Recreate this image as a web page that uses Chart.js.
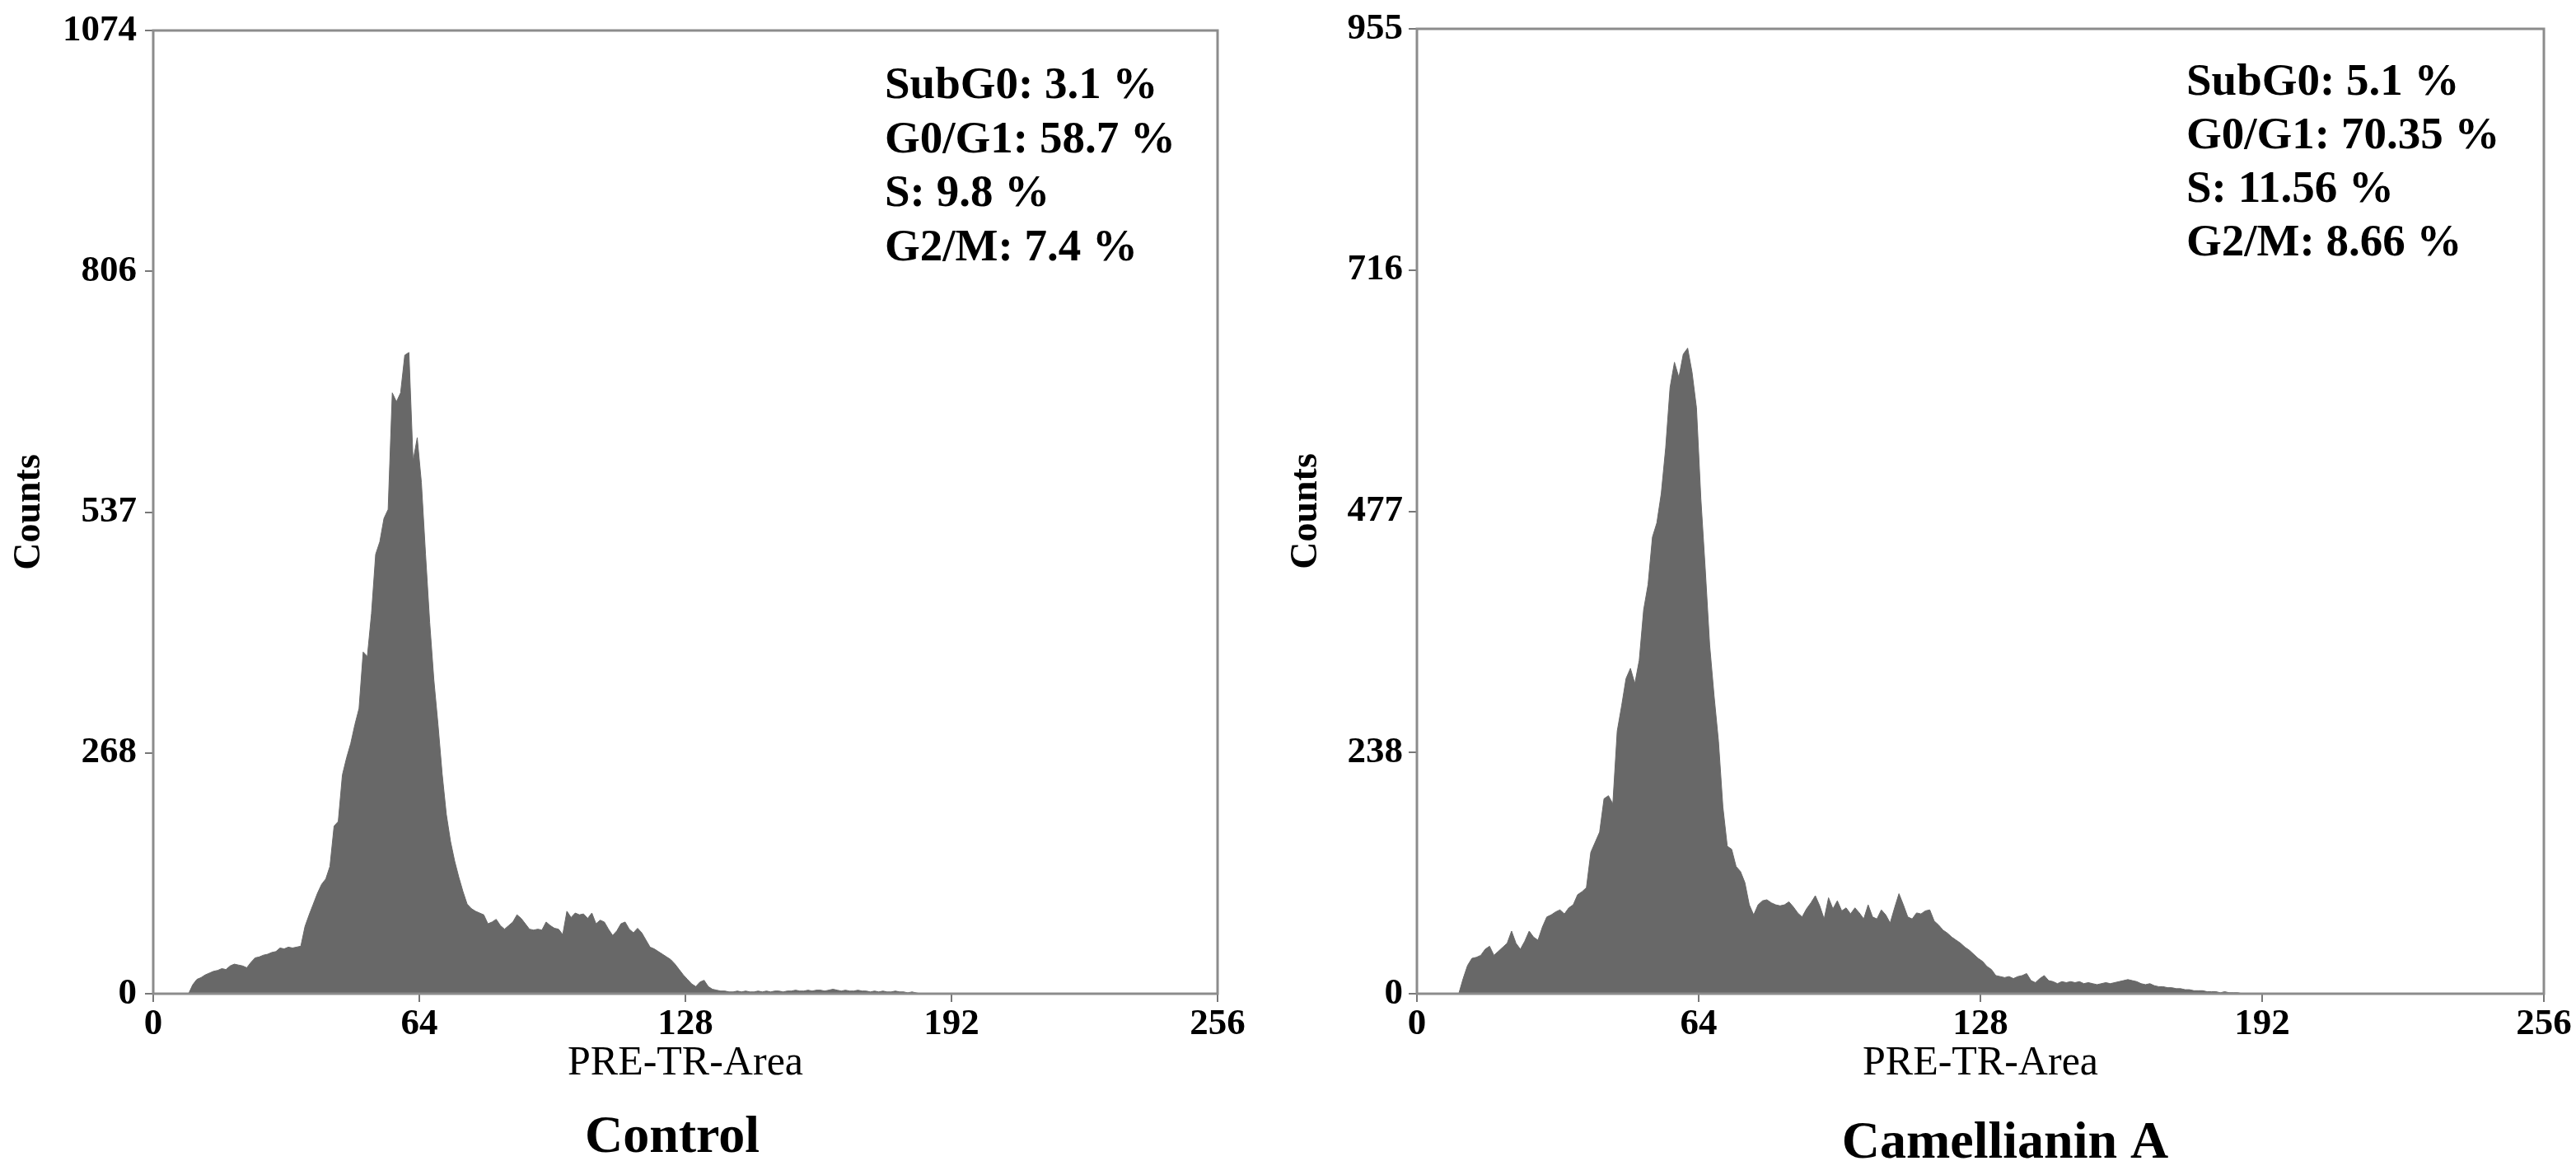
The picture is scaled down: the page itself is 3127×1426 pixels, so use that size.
<!DOCTYPE html>
<html><head><meta charset="utf-8">
<script src="https://cdn.jsdelivr.net/npm/chart.js@4.4.1/dist/chart.umd.min.js"></script>
<style>
html,body{margin:0;padding:0;background:#fff;overflow:hidden}
#wrap{position:relative;width:3127px;height:1426px;background:#fff}
canvas{position:absolute;top:0}
</style></head><body>
<div id="wrap">
<canvas id="c1" width="1560" height="1426" style="left:0"></canvas>
<canvas id="c2" width="1567" height="1426" style="left:1560px"></canvas>
</div>
<script>
// ---- data ----
const xTickLabels = ['0','64','128','192','256'];
const controlYTickLabels = ['0','268','537','806','1074'];
const camYTickLabels = ['0','238','477','716','955'];
const controlYMax = 1074;
const camYMax = 955;
const xTitle = 'PRE-TR-Area';
const yTitle = 'Counts';
const panelTitles = ['Control', 'Camellianin A'];
const controlStats = ['SubG0: 3.1 %', 'G0/G1: 58.7 %', 'S: 9.8 %', 'G2/M: 7.4 %'];
const camStats = ['SubG0: 5.1 %', 'G0/G1: 70.35 %', 'S: 11.56 %', 'G2/M: 8.66 %'];

// counts per channel, starting at channel 0
const controlCounts = [
  0,0,0,0,0,0,0,0,0,10,16,18,21,23,25,26,
  28,27,31,33,32,31,29,35,40,41,43,44,46,47,51,50,
  52,51,52,53,75,88,100,112,122,128,142,187,192,244,263,279,
  300,318,381,376,424,490,504,530,540,670,660,670,712,715,594,620,
  570,490,414,350,300,245,200,170,148,130,114,100,95,92,90,88,
  78,80,83,76,72,76,80,88,84,78,72,71,72,71,80,76,
  73,72,66,92,85,90,88,89,84,90,78,82,80,72,65,70,
  78,80,72,68,73,68,60,52,50,47,44,41,38,33,27,21,
  16,11,8,13,15,8,5,4,3,3,2,2,3,2,3,2,
  2,3,2,3,2,3,3,2,3,3,4,3,3,4,3,4,
  4,3,4,5,4,3,4,3,3,4,3,3,2,3,2,3,
  2,2,3,2,2,1,2,1,0,0,0,0,0,0,0,0
];
const camCounts = [
  0,0,0,0,0,0,0,0,0,0,15,28,35,36,38,44,
  47,38,42,46,50,62,50,44,52,62,56,53,66,76,78,81,
  83,79,85,88,98,101,105,140,150,160,193,196,188,260,285,312,
  322,307,330,380,405,452,466,495,540,600,625,610,633,639,615,580,
  490,420,345,295,250,185,146,143,126,121,110,88,78,88,92,93,
  90,88,87,88,91,86,80,76,84,90,97,87,74,95,84,92,
  82,85,79,85,80,74,88,76,74,83,78,70,85,99,88,76,
  74,80,79,82,83,72,68,63,60,56,53,50,46,43,39,35,
  32,27,24,18,17,16,17,15,17,18,20,13,11,15,18,13,
  12,10,12,11,12,11,12,10,11,10,9,10,11,10,11,12,
  13,14,13,12,10,9,10,8,7,7,6,6,5,5,4,4,
  3,3,3,2,2,2,1,2,1,1,1,0,0,0,0,0
];

// ---- drawing ----
const SERIF = '"Liberation Serif", "Times New Roman", serif';
const FILL = '#686868';
const FRAME = '#8c8c8c';

const panelPlugin = {
  id: 'panelDeco',
  afterDatasetsDraw(chart, args, opts) {
    const ctx = chart.ctx, a = chart.chartArea;
    ctx.save();
    ctx.strokeStyle = FRAME;
    ctx.lineWidth = 3;
    ctx.strokeRect(a.left, a.top, a.right - a.left, a.bottom - a.top);
    ctx.restore();
  },
  afterDraw(chart, args, opts) {
    const ctx = chart.ctx, a = chart.chartArea;
    ctx.save();
    ctx.fillStyle = '#000';
    ctx.textAlign = 'left';
    ctx.textBaseline = 'alphabetic';
    ctx.font = 'bold ' + opts.statsSize + 'px ' + SERIF;
    opts.stats.forEach((s, i) => {
      ctx.fillText(s, a.left + opts.statsX, opts.statsY + i * opts.statsGap);
    });
    ctx.textAlign = 'center';
    ctx.font = 'bold ' + opts.captionSize + 'px ' + SERIF;
    ctx.fillText(opts.caption, opts.captionX, opts.captionY);
    ctx.restore();
  }
};

function makeChart(id, counts, yMax, yLabels, cfg) {
  const data = counts.map((v, i) => ({x: i + 0.5, y: v}));
  return new Chart(document.getElementById(id), {
    type: 'line',
    data: { datasets: [{
      data: data,
      fill: 'origin',
      backgroundColor: FILL,
      borderColor: FILL,
      borderWidth: 1,
      pointRadius: 0,
      stepped: false,
      tension: 0
    }]},
    options: {
      responsive: false,
      animation: false,
      devicePixelRatio: 1,
      layout: { padding: cfg.padding },
      plugins: {
        legend: { display: false },
        tooltip: { enabled: false },
        panelDeco: cfg.deco
      },
      scales: {
        x: {
          type: 'linear', min: 0, max: 256,
          afterBuildTicks: s => { s.ticks = xTickLabels.map(t => ({value: Number(t)})); },
          afterFit: s => { s.height = cfg.xAxisH; },
          ticks: {
            autoSkip: false, maxRotation: 0, padding: 0, color: '#000',
            font: { family: SERIF, size: 45, weight: 'bold' },
            callback: (v, i) => xTickLabels[i]
          },
          grid: { display: true, drawOnChartArea: false, drawTicks: true, tickLength: 10, color: '#777', lineWidth: 2 },
          border: { display: false },
          title: { display: true, text: xTitle, color: '#000',
            font: { family: SERIF, size: 50, weight: 'normal', lineHeight: 1 },
            padding: { top: 0, bottom: cfg.xTitlePad } }
        },
        y: {
          type: 'linear', min: 0, max: yMax,
          afterBuildTicks: s => { s.ticks = yLabels.map((t, i) => ({value: i * yMax / (yLabels.length - 1)})); },
          afterFit: s => { s.width = cfg.yAxisW; },
          ticks: {
            autoSkip: false, padding: cfg.yTickPad, color: '#000',
            font: { family: SERIF, size: 45, weight: 'bold' },
            callback: (v, i) => yLabels[i]
          },
          grid: { display: true, drawOnChartArea: false, drawTicks: true, tickLength: 10, color: '#777', lineWidth: 2 },
          border: { display: false },
          title: { display: true, text: yTitle, color: '#000',
            font: { family: SERIF, size: 46, weight: 'bold', lineHeight: 1 },
            padding: { top: cfg.yTitlePad, bottom: 0 } }
        }
      }
    },
    plugins: [panelPlugin]
  });
}

makeChart('c1', controlCounts, controlYMax, controlYTickLabels, {
  padding: { left: 0, top: 29, right: 82, bottom: 110 },
  xAxisH: 110, yAxisW: 186, yTickPad: 10, xTitlePad: 0, yTitlePad: 13,
  deco: { stats: controlStats, statsX: 888, statsY: 119, statsGap: 65.7, statsSize: 55,
          caption: panelTitles[0], captionX: 816, captionY: 1398, captionSize: 64 }
});
makeChart('c2', camCounts, camYMax, camYTickLabels, {
  padding: { left: 0, top: 35, right: 39, bottom: 110 },
  xAxisH: 110, yAxisW: 160, yTickPad: 7, xTitlePad: 0, yTitlePad: 3,
  deco: { stats: camStats, statsX: 934, statsY: 115, statsGap: 65, statsSize: 55,
          caption: panelTitles[1], captionX: 874, captionY: 1405, captionSize: 64 }
});
</script>
</body></html>
